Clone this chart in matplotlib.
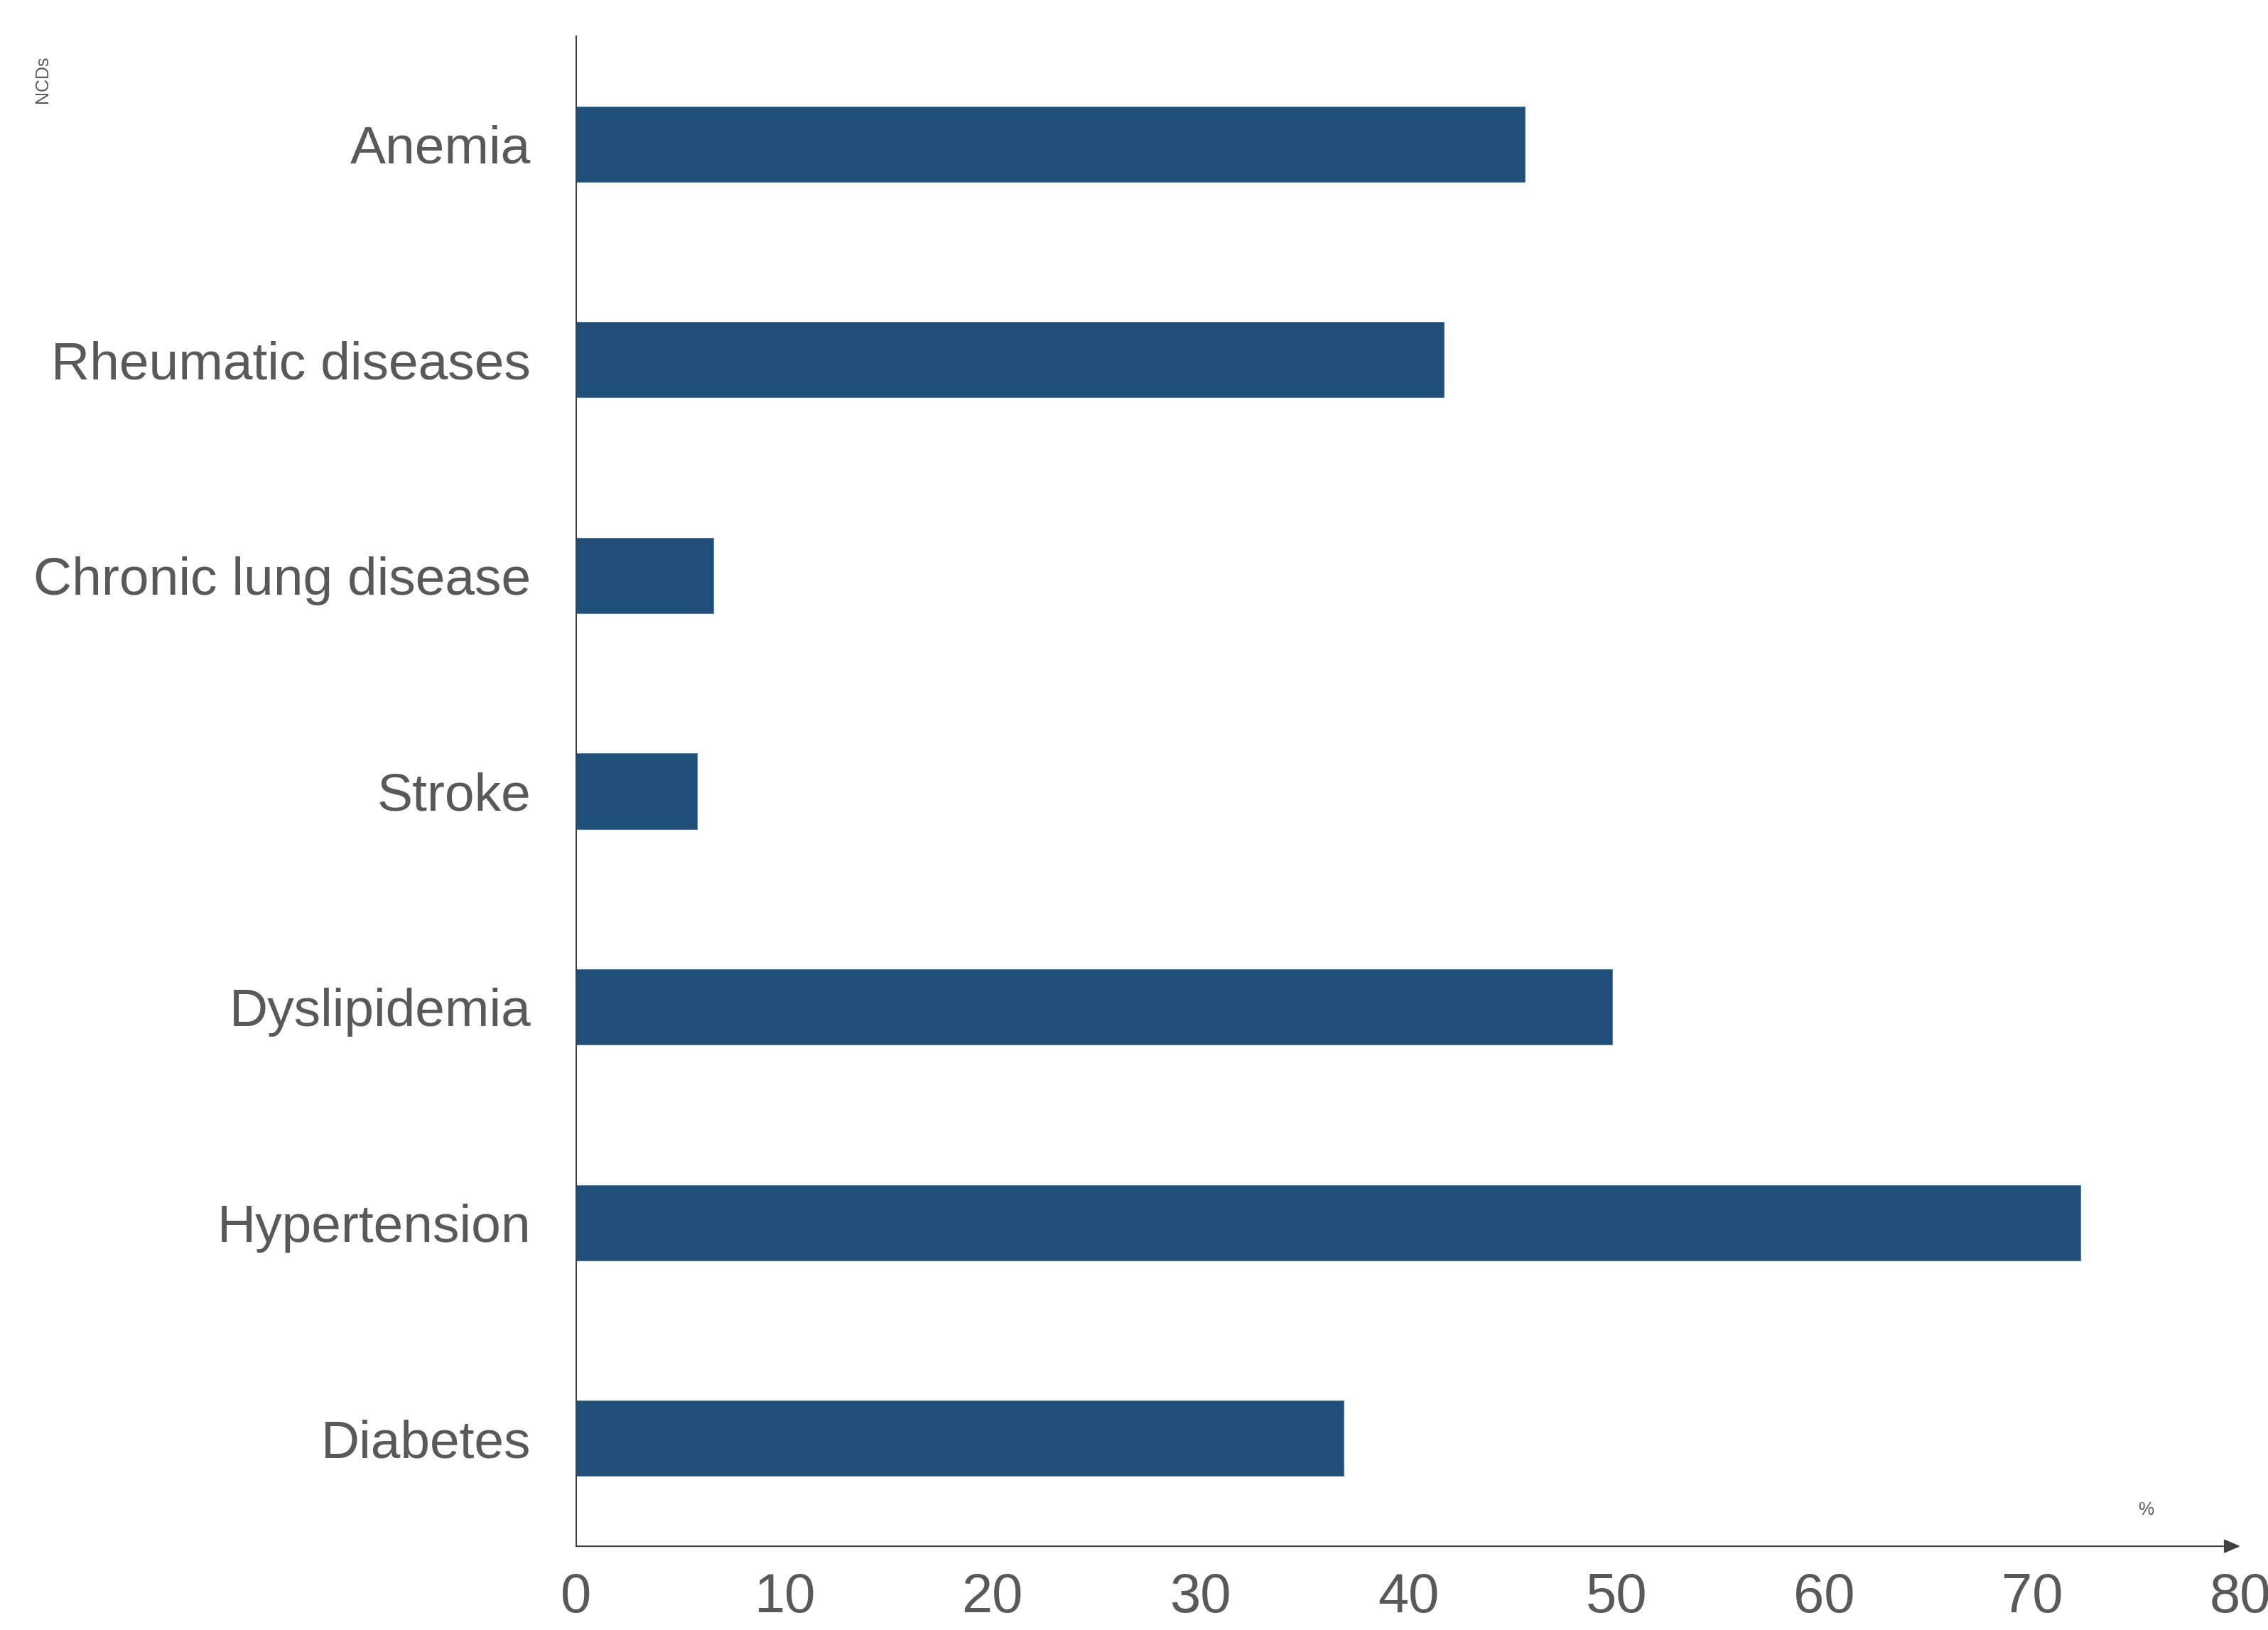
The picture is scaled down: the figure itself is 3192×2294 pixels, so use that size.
import matplotlib.pyplot as plt

# Data (percent)
diseases = ['Diabetes', 'Hypertension', 'Dyslipidemia', 'Stroke',
            'Chronic lung disease', 'Rheumatic diseases', 'Anemia']
prevalence = [36.9, 72.3, 49.8, 5.8, 6.6, 41.7, 45.6]
x_ticks = [0, 10, 20, 30, 40, 50, 60, 70, 80]

bar_color = '#1f4e79'
text_grey = '#595959'
axis_grey = '#404040'

plt.rcParams['font.family'] = ['Liberation Sans', 'DejaVu Sans']

fig = plt.figure(figsize=(31.92, 22.94), dpi=100)
ax = fig.add_axes([0.2541, 0.0514, 0.7337, 0.9264])

ypos = list(range(len(diseases)))
ax.barh(ypos, prevalence, height=0.35, color=bar_color,
        edgecolor='#5a7ea3', linewidth=0.8)

ax.set_xlim(0, 80)
ax.set_ylim(-0.5, len(diseases) - 0.5)
ax.set_yticks(ypos)
ax.set_yticklabels(diseases, fontsize=54, color=text_grey)
ax.set_xticks(x_ticks)
ax.set_xticklabels([str(t) for t in x_ticks], fontsize=56, color=text_grey)
ax.tick_params(axis='both', length=0)
ax.tick_params(axis='y', pad=46)
ax.tick_params(axis='x', pad=26)
for lbl in ax.get_yticklabels():
    lbl.set_va('center_baseline')

for side in ['top', 'right', 'bottom']:
    ax.spines[side].set_visible(False)
ax.spines['left'].set_color(axis_grey)
ax.spines['left'].set_linewidth(1.5)

# x axis drawn as an arrow
ax.annotate('', xy=(1.0, 0), xycoords='axes fraction',
            xytext=(0, 0), textcoords='axes fraction',
            arrowprops=dict(arrowstyle='-|>,head_length=0.7,head_width=0.3',
                            color=axis_grey, lw=1.5, mutation_scale=20,
                            shrinkA=0, shrinkB=0))

# axis titles
fig.text(60 / 3192, 1 - 112 / 2294, 'NCDs', rotation=90, fontsize=18,
         color=text_grey, ha='center', va='center')
ax.text(75.45, -0.5 + 51 / 303.8, '%', fontsize=18, color=text_grey,
        ha='center', va='center')

fig.savefig('out.png', dpi=100)
